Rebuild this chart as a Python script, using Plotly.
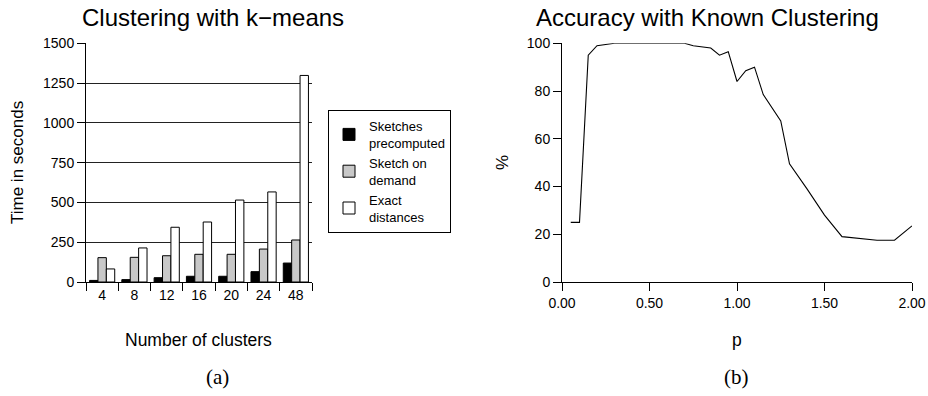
import plotly.graph_objects as go

# ---- data: left chart (k-means timing) ----
clusters = ["4", "8", "12", "16", "20", "24", "48"]
sketches_precomputed = [10, 15, 27, 36, 36, 65, 119]
sketch_on_demand = [153, 155, 165, 174, 174, 207, 264]
exact_distances = [82, 214, 344, 377, 515, 566, 1298]
series_names = ["Sketches<br>precomputed", "Sketch on<br>demand", "Exact<br>distances"]

# ---- data: right chart (accuracy vs p) ----
p_values = [0.05, 0.10, 0.15, 0.20, 0.30, 0.40, 0.50, 0.60, 0.70, 0.75, 0.85, 0.90,
            0.95, 1.00, 1.05, 1.10, 1.15, 1.25, 1.30, 1.40, 1.50, 1.60, 1.70, 1.80,
            1.90, 2.00]
accuracy = [25, 25, 95, 99, 100, 100, 100, 100, 100, 99, 98, 95,
            96.5, 84, 88.5, 90, 78.5, 67.5, 49.5, 39, 28, 19, 18.3, 17.5,
            17.5, 23.5]
x2_ticks = [0, 0.5, 1.0, 1.5, 2.0]

W, H = 928, 396
def px(x):
    return x / W
def py(y):
    return 1 - y / H

SANS = "Liberation Sans, Arial, sans-serif"
SERIF = "Liberation Serif, Times New Roman, serif"

fig = go.Figure()
bar_colors = ["#000000", "#c8c8c8", "#ffffff"]
for name, vals, col in zip(series_names,
                           [sketches_precomputed, sketch_on_demand, exact_distances],
                           bar_colors):
    fig.add_trace(go.Bar(x=clusters, y=vals, name=name,
                         marker=dict(color=col, line=dict(color="#000000", width=1)),
                         xaxis="x", yaxis="y"))

fig.add_trace(go.Scatter(x=p_values, y=accuracy, mode="lines", showlegend=False,
                         line=dict(color="#000000", width=1.1), cliponaxis=False,
                         xaxis="x2", yaxis="y2"))

ydom = [py(282), py(43.3)]
axis_common = dict(showline=True, linecolor="#000000", linewidth=1, ticks="outside",
                   ticklen=8, tickcolor="#000000", zeroline=False, automargin=False,
                   tickfont=dict(family=SANS, size=14, color="#000000"))

fig.update_layout(
    template="none",
    width=W, height=H,
    margin=dict(l=0, r=0, t=0, b=0, pad=0, autoexpand=False),
    paper_bgcolor="#ffffff", plot_bgcolor="#ffffff",
    barmode="group", bargap=0.22, bargroupgap=0,
    showlegend=True,
    legend=dict(x=px(328), y=py(110), xanchor="left", yanchor="top",
                bordercolor="#000000", borderwidth=1, bgcolor="#ffffff",
                font=dict(family=SANS, size=13, color="#000000"),
                tracegroupgap=6, itemwidth=30),
    xaxis=dict(domain=[px(86), px(312)], type="category", range=[-0.5, 6.5],
               tickson="boundaries", showgrid=False, anchor="y", **axis_common),
    yaxis=dict(domain=ydom, range=[0, 1500], dtick=250, showgrid=True,
               gridcolor="#222222", gridwidth=1, anchor="x", **axis_common),
    xaxis2=dict(domain=[px(562), px(912)], range=[0, 2], tickvals=x2_ticks,
                tickformat=".2f", showgrid=False, anchor="y2", **axis_common),
    yaxis2=dict(domain=ydom, range=[0, 100], dtick=20, showgrid=False,
                anchor="x2", **axis_common),
)

ann = []
def add_text(text, x, y, size, family=SANS, angle=0):
    ann.append(dict(text=text, x=px(x), y=py(y), xref="paper", yref="paper",
                    showarrow=False, xanchor="center", yanchor="middle",
                    textangle=angle, font=dict(family=family, size=size, color="#000000")))

add_text("Clustering with k\u2212means", 213, 17, 24)
add_text("Accuracy with Known Clustering", 707, 17, 24)
add_text("Time in seconds", 18, 163, 17, angle=-90)
add_text("%", 503, 163, 17, angle=-90)
add_text("Number of clusters", 198, 340, 17.5)
add_text("p", 737, 340, 17.5)
add_text("(a)", 217, 377, 21, family=SERIF)
add_text("(b)", 736, 377, 21, family=SERIF)
fig.update_layout(annotations=ann)

# remove the default 8px page margin so the figure fills the window exactly
fig.write_html("out.html",
               config={"displayModeBar": False, "staticPlot": True},
               post_script="document.body.style.margin='0';"
                           "document.body.style.overflow='hidden';")
